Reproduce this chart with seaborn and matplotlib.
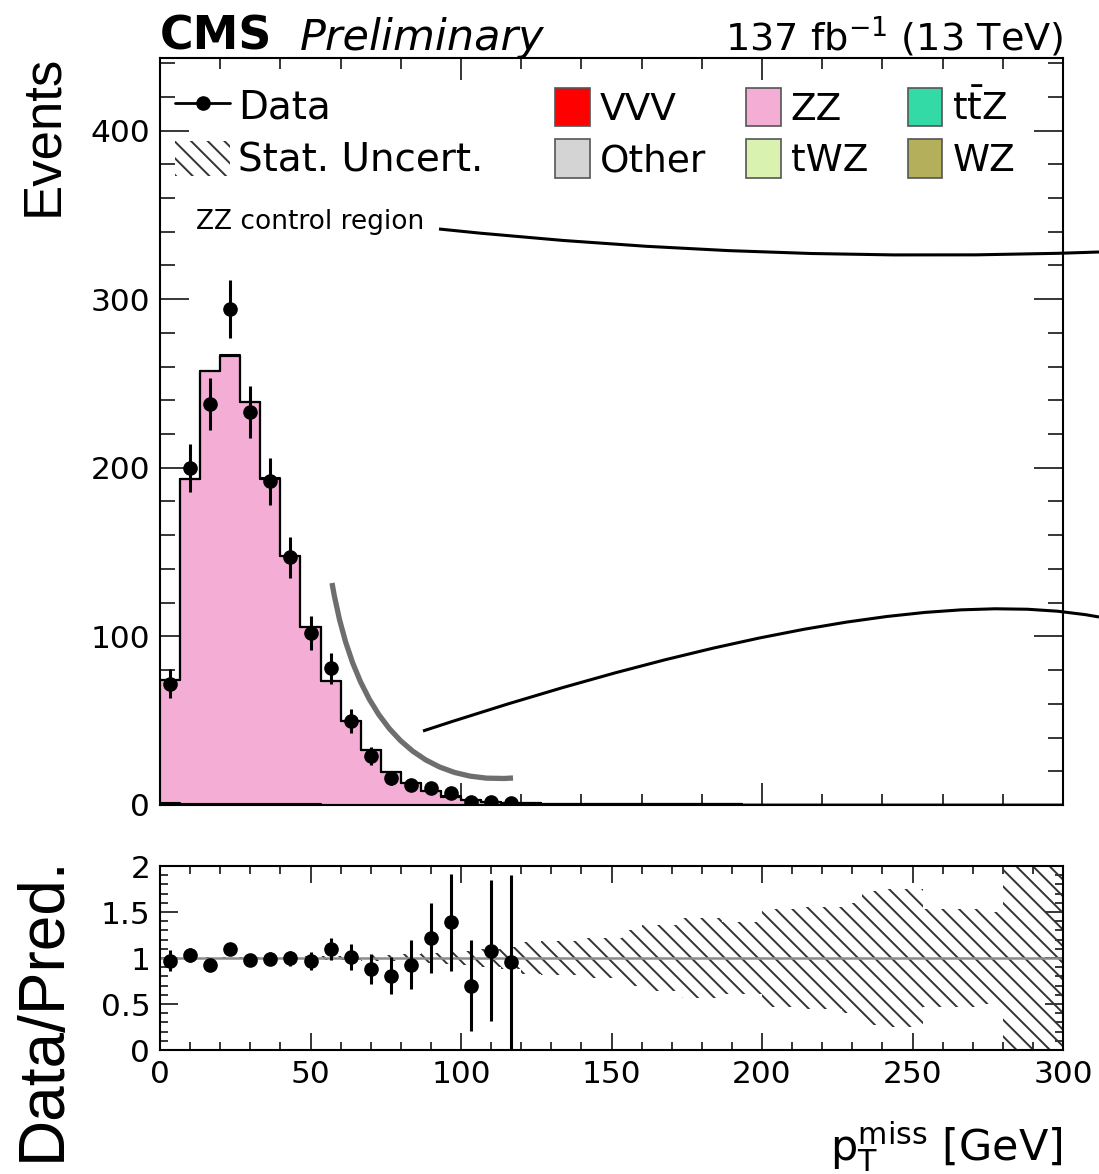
import numpy as np
import pandas as pd
import matplotlib
matplotlib.use("Agg")
import matplotlib.pyplot as plt
import seaborn as sns
from matplotlib.patches import Patch, PathPatch
from matplotlib.lines import Line2D
from matplotlib.path import Path
from matplotlib.ticker import MultipleLocator

# =========================
# Setup
# =========================
sns.set_theme(style="ticks")
plt.rcParams["font.family"] = ["DejaVu Sans"]
plt.rcParams["mathtext.fontset"] = "dejavusans"
plt.rcParams["hatch.linewidth"] = 1.4
for key in ("text.color", "axes.labelcolor", "xtick.color", "ytick.color"):
    plt.rcParams[key] = "black"

W, H = 1099, 1174

# =========================
# Data (45 bins, 0-300 GeV)
# =========================
N_BINS = 45
X_RANGE = (0, 300)
edges = np.linspace(X_RANGE[0], X_RANGE[1], N_BINS + 1)
centers = 0.5 * (edges[:-1] + edges[1:])

data_counts = [72, 200, 238, 294, 233, 192, 147, 102, 81, 50, 29, 16, 12, 10, 7,
               2, 2, 1, 0, 0, 0, 0, 0, 0, 0, 0, 0, 0, 0, 0,
               0, 0, 0, 0, 0, 0, 0, 0, 0, 0, 0, 0, 0, 0, 0]

zz = [73.2, 192.6, 256.8, 265.9, 238.2, 193.1, 147.3, 105.3, 73.5, 49.4, 32.6, 19.7, 12.8, 8.1, 4.95,
      2.8, 1.8, 1.0, 0.9, 0.8, 0.7, 0.6, 0.55, 0.5, 0.45, 0.4, 0.35, 0.32, 0.3, 0.27,
      0.24, 0.22, 0.2, 0.18, 0.16, 0.15, 0.13, 0.12, 0.1, 0.09, 0.08, 0.07, 0.06, 0.05, 0.04]
vvv = [0.02, 0.1, 0.15, 0.35, 0.1, 0.1, 0.05, 0.05, 0.03, 0.02, 0.02, 0.01, 0.01, 0.01, 0.01,
       0.01, 0.01, 0.01, 0, 0, 0, 0, 0, 0, 0, 0, 0, 0, 0, 0,
       0, 0, 0, 0, 0, 0, 0, 0, 0, 0, 0, 0, 0, 0, 0]
ttz = [0.1, 0.1, 0.1, 0.1, 0.1, 0.1, 0.05, 0.05, 0.05, 0.05, 0.03, 0.03, 0.02, 0.02, 0.02,
       0.01, 0.01, 0.01, 0.01, 0.01, 0, 0, 0, 0, 0, 0, 0, 0, 0, 0,
       0, 0, 0, 0, 0, 0, 0, 0, 0, 0, 0, 0, 0, 0, 0]
other = [0.4, 0.2, 0.1, 0.1, 0.1, 0.1, 0.05, 0.05, 0.05, 0.05, 0.03, 0.03, 0.02, 0.02, 0.02,
         0.01, 0.01, 0.01, 0.01, 0.01, 0, 0, 0, 0, 0, 0, 0, 0, 0, 0,
         0, 0, 0, 0, 0, 0, 0, 0, 0, 0, 0, 0, 0, 0, 0]
twz = [0.02, 0.02, 0.02, 0.02, 0.02, 0.02, 0.01, 0.01, 0.01, 0.01, 0.01, 0.01, 0.01, 0.01, 0.01,
       0, 0, 0, 0, 0, 0, 0, 0, 0, 0, 0, 0, 0, 0, 0,
       0, 0, 0, 0, 0, 0, 0, 0, 0, 0, 0, 0, 0, 0, 0]
wz = [0.6, 0.5, 0.5, 0.4, 0.35, 0.3, 0.25, 0.2, 0.15, 0.12, 0.1, 0.08, 0.06, 0.05, 0.04,
      0.03, 0.02, 0.02, 0.02, 0.02, 0.01, 0.01, 0.01, 0.01, 0.01, 0, 0, 0, 0, 0,
      0, 0, 0, 0, 0, 0, 0, 0, 0, 0, 0, 0, 0, 0, 0]

# relative MC stat. uncertainty per bin
stat_rel = [0.02, 0.012, 0.01, 0.01, 0.01, 0.012, 0.014, 0.017, 0.02, 0.025, 0.03, 0.035, 0.04, 0.05, 0.06,
            0.08, 0.1, 0.12, 0.17, 0.19, 0.19, 0.22, 0.22, 0.3, 0.36, 0.36, 0.44, 0.44, 0.39, 0.39,
            0.53, 0.53, 0.55, 0.55, 0.6, 0.73, 0.75, 0.75, 0.53, 0.53, 0.53, 0.5, 1.3, 1.3, 1.3]

procs = ["VVV", "ZZ", "ttZ", "Other", "tWZ", "WZ"]   # top of stack first
proc_vals = [vvv, zz, ttz, other, twz, wz]
labels = ["VVV", "ZZ", r"t$\bar{\mathrm{t}}$Z", "Other", "tWZ", "WZ"]
colors = ["#ff0000", "#f4aed6", "#33daa6", "#d4d4d4", "#d9f2b0", "#b4af5a"]

df = pd.DataFrame({
    "pt": np.tile(centers, len(procs)),
    "w": np.concatenate([np.asarray(v, float) for v in proc_vals]),
    "proc": np.repeat(procs, len(centers)),
})

data = np.asarray(data_counts, float)
total = np.sum([np.asarray(v, float) for v in proc_vals], axis=0)
rel = np.asarray(stat_rel)
has = data > 0
data_err = np.sqrt(data)

# =========================
# Figure
# =========================
fig = plt.figure(figsize=(W / 100, H / 100), dpi=100)
ax = fig.add_axes([160 / W, 1 - 805 / H, 903 / W, 747 / H])
axr = fig.add_axes([160 / W, 1 - 1050 / H, 903 / W, 184 / H])

sns.histplot(data=df, x="pt", weights="w", hue="proc", hue_order=procs,
             bins=N_BINS, binrange=X_RANGE, multiple="stack", element="step",
             palette=dict(zip(procs, colors)), edgecolor="black", linewidth=1.5,
             alpha=1, legend=False, ax=ax)

ax.errorbar(centers[has], data[has], yerr=data_err[has], fmt="o", color="black",
            ms=9.5, elinewidth=2.2, capsize=0, zorder=5)

ax.set_xlim(*X_RANGE)
ax.set_ylim(0, 443)
ax.set_xlabel("")
ax.set_ylabel("")

# ratio panel
lo = np.clip(1 - rel, 0, 2)
hi = np.clip(1 + rel, 0, 2.2)
axr.fill_between(edges, np.append(lo, lo[-1]), np.append(hi, hi[-1]), step="post",
                 facecolor="none", edgecolor="#333333", hatch="\\\\", linewidth=0)
axr.axhline(1, color="#8c8c8c", lw=1.8, zorder=2)
ratio = data[has] / total[has]
ratio_err = data_err[has] / total[has]
axr.errorbar(centers[has], ratio, yerr=ratio_err, fmt="o", color="black",
             ms=9.5, elinewidth=2.2, capsize=0, zorder=5)
axr.set_xlim(*X_RANGE)
axr.set_ylim(0, 2)

# ticks, ROOT style
for a in (ax, axr):
    for s in a.spines.values():
        s.set_linewidth(1.5)
        s.set_color("black")
    a.tick_params(which="both", direction="in", top=True, right=True, width=1.1,
                  labelsize=22.5, pad=7)

ax.xaxis.set_major_locator(MultipleLocator(100))
ax.xaxis.set_minor_locator(MultipleLocator(20))
ax.yaxis.set_major_locator(MultipleLocator(100))
ax.yaxis.set_minor_locator(MultipleLocator(20))
ax.tick_params(axis="x", labelbottom=False)
ax.tick_params(axis="y", which="major", length=21)
ax.tick_params(axis="y", which="minor", length=11)
ax.tick_params(axis="x", which="major", length=16)
ax.tick_params(axis="x", which="minor", length=8)

axr.xaxis.set_major_locator(MultipleLocator(50))
axr.xaxis.set_minor_locator(MultipleLocator(10))
axr.set_yticks([0, 0.5, 1, 1.5, 2])
axr.set_yticklabels(["0", "0.5", "1", "1.5", "2"])
axr.yaxis.set_minor_locator(MultipleLocator(0.1))
axr.tick_params(axis="y", which="major", length=13)
axr.tick_params(axis="y", which="minor", length=6)
axr.tick_params(axis="x", which="major", length=12)
axr.tick_params(axis="x", which="minor", length=6)

# =========================
# Legends
# =========================
h_data = Line2D([], [], color="black", marker="o", ms=9.5, lw=2)
h_stat = Patch(facecolor="none", edgecolor="#333333", hatch="\\\\", linewidth=0)
leg1 = ax.legend([h_data, h_stat], ["Data", "Stat. Uncert."], loc="upper left",
                 bbox_to_anchor=(15 / 903, (805 - 88) / 747), frameon=False, fontsize=28,
                 handlelength=1.42, handleheight=1.0, handletextpad=0.21,
                 labelspacing=0.36, borderpad=0, borderaxespad=0)
ax.add_artist(leg1)

# legend fills column by column: reorder so rows read VVV ZZ ttZ / Other tWZ WZ
order = [0, 3, 1, 4, 2, 5]
h_proc = [Patch(facecolor=c, edgecolor="#555555", linewidth=1.2) for c in colors]
ax.legend([h_proc[i] for i in order], [labels[i] for i in order], loc="upper left", ncol=3,
          bbox_to_anchor=(395 / 903, (805 - 88) / 747), frameon=False, fontsize=27,
          handlelength=0.93, handleheight=1.2, handletextpad=0.27,
          labelspacing=0.3, columnspacing=1.05, borderpad=0, borderaxespad=0)

ax.text(36 / 903, (805 - 222) / 747, "ZZ control region", transform=ax.transAxes,
        fontsize=19, ha="left", va="center")

# =========================
# Header and axis titles
# =========================
fig.text(160 / W, 1 - 50 / H, "CMS", fontsize=33, fontweight="bold", ha="left", va="baseline")
fig.text(300 / W, 1 - 50 / H, "Preliminary", fontsize=31, style="italic", ha="left", va="baseline")
fig.text(1063 / W, 1 - 50 / H, r"137 fb$^{-1}$ (13 TeV)", fontsize=27.5, ha="right", va="baseline")
fig.text(43 / W, 1 - 55 / H, "Events", fontsize=38, rotation=90, ha="center", va="top",
         family=["Liberation Sans", "DejaVu Sans"])
fig.text(43 / W, 1 - 1008 / H, "Data/Pred.", fontsize=46, rotation=90, ha="center", va="center",
         family=["Liberation Sans", "DejaVu Sans"])
fig.text(1063 / W, 1 - 1160 / H, r"p$_\mathrm{T}^\mathrm{miss}$ [GeV]", fontsize=31,
         ha="right", va="baseline")

# =========================
# Overlaid annotation strokes
# =========================
def fig_pt(x, y):
    return (x / W, 1 - y / H)

def stroke(p0, c, p1, color, lw):
    path = Path([fig_pt(*p0), fig_pt(*c), fig_pt(*p1)], [Path.MOVETO, Path.CURVE3, Path.CURVE3])
    fig.add_artist(PathPatch(path, fill=False, edgecolor=color, linewidth=lw,
                             transform=fig.transFigure, capstyle="butt"))

stroke((439, 229), (771, 264), (1099, 252), "black", 2.2)
stroke((423, 731), (890, 577), (1099, 617), "black", 2.2)
stroke((332, 583), (367, 789), (513, 778), "#6e6e6e", 3.8)

fig.savefig("out.png", dpi=100)
